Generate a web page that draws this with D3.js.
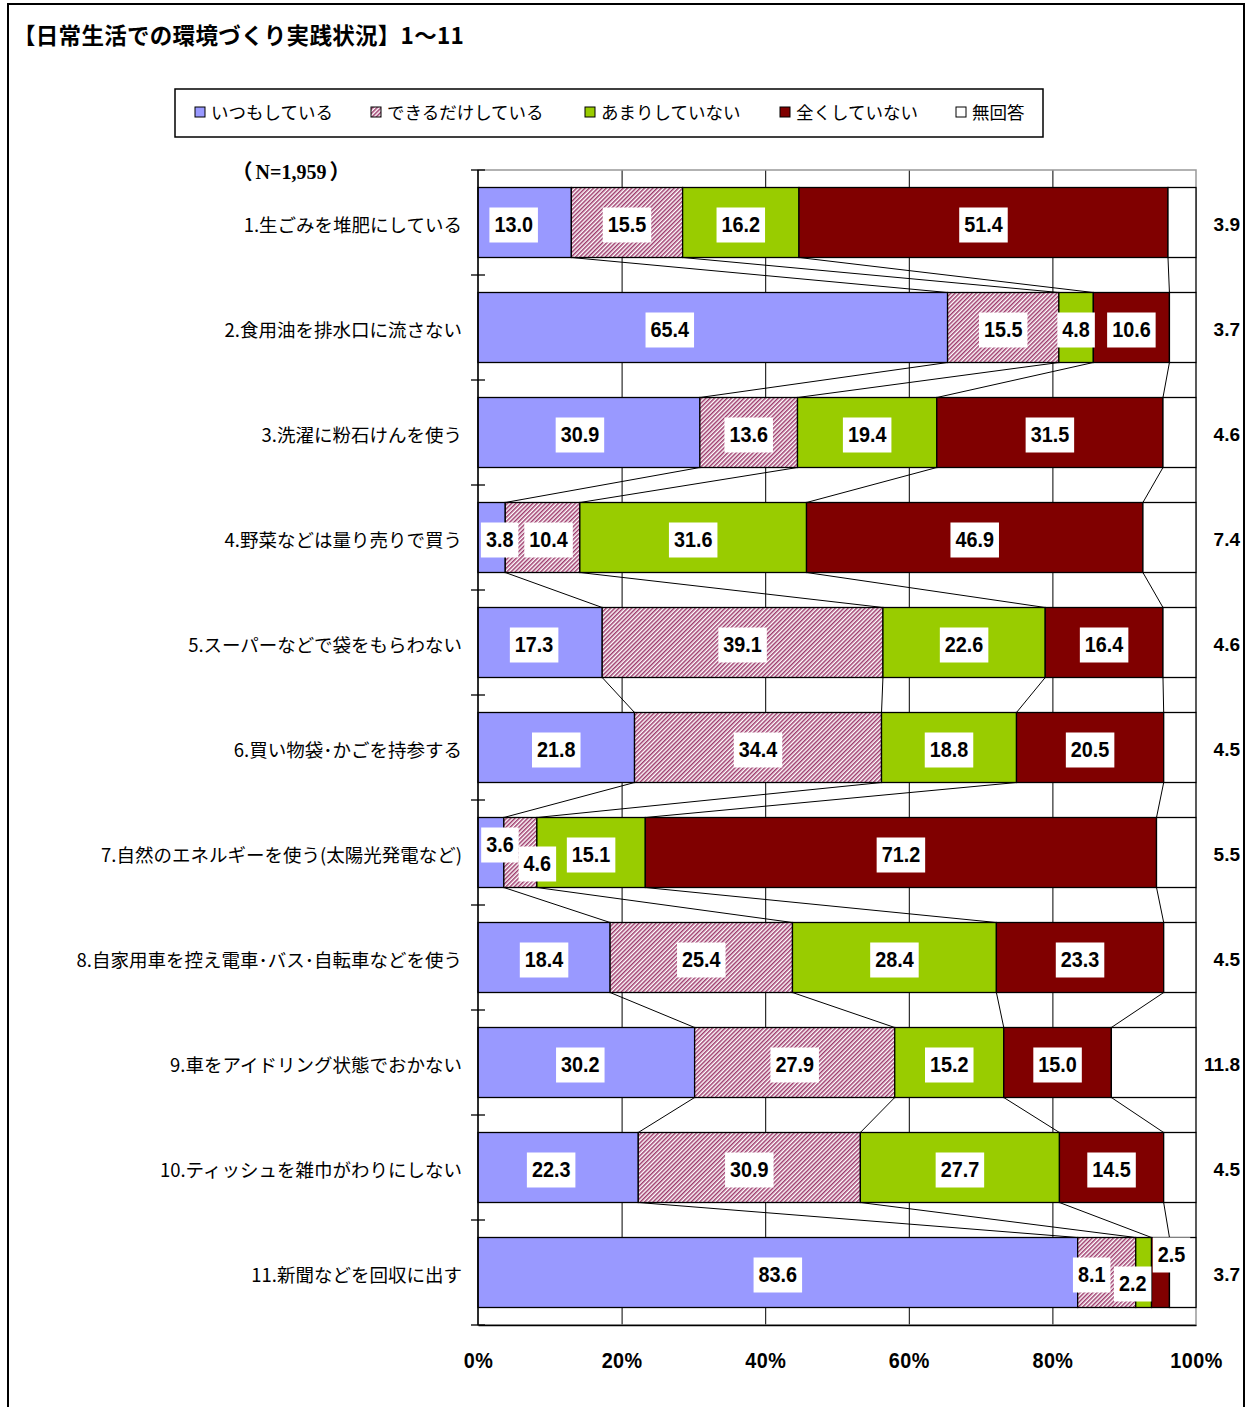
<!DOCTYPE html>
<html lang="ja">
<head>
<meta charset="utf-8">
<script src="https://cdn.jsdelivr.net/npm/d3@7"></script>
<style>
  html, body { margin: 0; padding: 0; background: #fff; }
  svg { display: block; }
</style>
</head>
<body>
<div id="chart"></div>
<script>
// ---- data ----
const categories = [
  "1.生ごみを堆肥にしている",
  "2.食用油を排水口に流さない",
  "3.洗濯に粉石けんを使う",
  "4.野菜などは量り売りで買う",
  "5.スーパーなどで袋をもらわない",
  "6.買い物袋･かごを持参する",
  "7.自然のエネルギーを使う(太陽光発電など)",
  "8.自家用車を控え電車･バス･自転車などを使う",
  "9.車をアイドリング状態でおかない",
  "10.ティッシュを雑巾がわりにしない",
  "11.新聞などを回収に出す"
];
const seriesNames = ["いつもしている", "できるだけしている", "あまりしていない", "全くしていない", "無回答"];
const always       = [13.0, 65.4, 30.9,  3.8, 17.3, 21.8,  3.6, 18.4, 30.2, 22.3, 83.6];
const whenPossible = [15.5, 15.5, 13.6, 10.4, 39.1, 34.4,  4.6, 25.4, 27.9, 30.9,  8.1];
const rarely       = [16.2,  4.8, 19.4, 31.6, 22.6, 18.8, 15.1, 28.4, 15.2, 27.7,  2.2];
const never        = [51.4, 10.6, 31.5, 46.9, 16.4, 20.5, 71.2, 23.3, 15.0, 14.5,  2.5];
const noAnswer     = [ 3.9,  3.7,  4.6,  7.4,  4.6,  4.5,  5.5,  4.5, 11.8,  4.5,  3.7];
const tickValues   = [0, 0.2, 0.4, 0.6, 0.8, 1];
const sampleNote   = "N=1,959";
const titleText    = "【日常生活での環境づくり実践状況】1～11";

// ---- layout / style ----
const W = 1247, H = 1407;
const plot = { left: 478, right: 1196, top: 170, bottom: 1325 };
const colors = ["#9999FF", "url(#hatch)", "#99CC00", "#800000", "#FFFFFF"];
const keys = ["s0", "s1", "s2", "s3", "s4"];
// per-label placement tweaks (row index -> series index -> [dx, dy])
const labelNudge = {
  0: { 0: [-11, 0] },
  1: { 0: [-43, 0] },
  2: { 0: [-9, 0] },
  3: { 0: [8, 0], 1: [6, 0] },
  4: { 0: [-6, 0] },
  6: { 0: [9, -10], 1: [17, 9] },
  8: { 0: [-6, 0] },
  9: { 0: [-7, 0] },
  10: { 1: [-15, 0], 2: [-11, 9], 3: [11, -20] }
};
const numFont = "'Liberation Sans', Arial, sans-serif";
const jpFont = "'Noto Sans CJK JP', 'Noto Sans', sans-serif";
const serifFont = "'Liberation Serif', 'Times New Roman', serif";
const squeeze = 0.9;

const rows = categories.map((c, i) => ({
  cat: c, s0: always[i], s1: whenPossible[i], s2: rarely[i], s3: never[i], s4: noAnswer[i]
}));
const stacked = d3.stack().keys(keys).offset(d3.stackOffsetExpand)(rows);

const x = d3.scaleLinear().domain([0, 1]).range([plot.left, plot.right]);
const y = d3.scaleBand().domain(categories)
  .range([plot.top, plot.bottom]).paddingInner(1 / 3).paddingOuter(1 / 6);

const svg = d3.select("#chart").append("svg").attr("width", W).attr("height", H);

const defs = svg.append("defs");
const pat = defs.append("pattern").attr("id", "hatch")
  .attr("patternUnits", "userSpaceOnUse").attr("width", 3).attr("height", 3)
  .attr("patternTransform", "rotate(45)");
pat.append("rect").attr("width", 3).attr("height", 3).attr("fill", "#fff");
pat.append("rect").attr("width", 1.5).attr("height", 3).attr("fill", "#9E3A6C");

svg.append("rect").attr("width", W).attr("height", H).attr("fill", "#fff");
// outer frame
svg.append("rect").attr("x", 8).attr("y", 4).attr("width", 1236).attr("height", 1430)
  .attr("fill", "none").attr("stroke", "#000").attr("stroke-width", 2);

// title
svg.append("text").attr("x", 13).attr("y", 44)
  .attr("font-family", jpFont).attr("font-weight", "bold").attr("font-size", 22.5)
  .attr("letter-spacing", 0.3)
  .text(titleText);

// legend
const lg = svg.append("g");
lg.append("rect").attr("x", 175).attr("y", 89).attr("width", 868).attr("height", 48)
  .attr("fill", "#fff").attr("stroke", "#000").attr("stroke-width", 1.5);
const legendX = [195, 371, 585, 780, 956];
seriesNames.forEach((n, i) => {
  lg.append("rect").attr("x", legendX[i]).attr("y", 107).attr("width", 10).attr("height", 10)
    .attr("fill", colors[i]).attr("stroke", "#000").attr("stroke-width", 1);
  lg.append("text").attr("x", legendX[i] + 16).attr("y", 119)
    .attr("font-family", jpFont).attr("font-size", 17.5).text(n);
});

// sample size note
const note = svg.append("text").attr("x", 291).attr("y", 179).attr("text-anchor", "middle")
  .attr("font-weight", "bold").attr("font-size", 20);
note.append("tspan").attr("font-family", jpFont).attr("font-size", 21).text("（");
note.append("tspan").attr("font-family", serifFont).attr("dx", 3).text(sampleNote);
note.append("tspan").attr("font-family", jpFont).attr("font-size", 21).attr("dx", 3).text("）");

// vertical gridlines
const grid = svg.append("g").attr("transform", `translate(0,${plot.bottom})`)
  .call(d3.axisBottom(x).tickValues([0.2, 0.4, 0.6, 0.8])
    .tickSize(-(plot.bottom - plot.top)).tickFormat(""));
grid.select(".domain").remove();
grid.selectAll("line").attr("stroke", "#000").attr("stroke-width", 1);

// plot area border
svg.append("rect").attr("x", plot.left).attr("y", plot.top)
  .attr("width", plot.right - plot.left).attr("height", plot.bottom - plot.top)
  .attr("fill", "none").attr("stroke", "#999").attr("stroke-width", 1.5);

// series connector lines between consecutive bars
const conn = svg.append("g").attr("stroke", "#000").attr("stroke-width", 1);
stacked.forEach(layer => {
  for (let i = 0; i < rows.length - 1; i++) {
    conn.append("line")
      .attr("x1", x(layer[i][1])).attr("y1", y(categories[i]) + y.bandwidth())
      .attr("x2", x(layer[i + 1][1])).attr("y2", y(categories[i + 1]));
  }
});

// bars
const bars = svg.append("g");
stacked.forEach((layer, si) => {
  bars.selectAll(null).data(layer).enter().append("rect")
    .attr("x", d => x(d[0]))
    .attr("y", d => y(d.data.cat))
    .attr("width", d => x(d[1]) - x(d[0]))
    .attr("height", y.bandwidth())
    .attr("fill", colors[si])
    .attr("stroke", "#000").attr("stroke-width", 1.3);
});

// left axis with ticks at category boundaries
const ax = svg.append("g").attr("stroke", "#000");
ax.append("line").attr("x1", plot.left).attr("x2", plot.left)
  .attr("y1", plot.top).attr("y2", plot.bottom).attr("stroke-width", 1.5);
d3.range(categories.length + 1).forEach(k => {
  const yy = plot.top + k * y.step();
  ax.append("line").attr("x1", plot.left - 7).attr("x2", plot.left + 7)
    .attr("y1", yy).attr("y2", yy).attr("stroke-width", 1.3);
});

// bottom axis
const bx = svg.append("g").attr("transform", `translate(0,${plot.bottom})`)
  .call(d3.axisBottom(x).tickValues(tickValues).tickSize(0).tickFormat(d3.format(".0%")));
bx.select(".domain").attr("stroke", "#000").attr("stroke-width", 1.5);
bx.selectAll("text")
  .attr("y", 35).attr("dy", "0.36em")
  .attr("font-family", numFont).attr("font-weight", "bold").attr("font-size", 22)
  .attr("letter-spacing", 0.5)
  .attr("fill", "#000")
  .attr("transform", `scale(${squeeze},1)`);

// category labels
svg.append("g").selectAll("text").data(categories).enter().append("text")
  .attr("x", 462).attr("y", d => y(d) + y.bandwidth() / 2 + 3)
  .attr("dy", "0.36em").attr("text-anchor", "end")
  .attr("font-family", jpFont).attr("font-size", 18.5)
  .text(d => d);

// data labels on the four answer segments
const lblG = svg.append("g");
stacked.slice(0, 4).forEach((layer, si) => {
  layer.forEach((d, ri) => {
    const nud = (labelNudge[ri] && labelNudge[ri][si]) || [0, 0];
    const cx = (x(d[0]) + x(d[1])) / 2 + nud[0];
    const cy = y(d.data.cat) + y.bandwidth() / 2 + 2 + nud[1];
    const val = rows[ri][keys[si]];
    const g = lblG.append("g").attr("transform", `translate(${cx},${cy})`);
    const box = g.append("rect").attr("fill", "#fff");
    const t = g.append("text").attr("text-anchor", "middle").attr("dy", "0.36em")
      .attr("font-family", numFont).attr("font-weight", "bold").attr("font-size", 22)
      .attr("transform", `scale(${squeeze},1)`)
      .text(d3.format(".1f")(val));
    const w = t.node().getComputedTextLength() * squeeze + 10;
    box.attr("x", -w / 2).attr("y", -17).attr("width", w).attr("height", 35);
  });
});

// no-answer values to the right of the plot
svg.append("g").selectAll("text").data(categories).enter().append("text")
  .attr("x", 1240).attr("y", (d, i) => y(d) + y.bandwidth() / 2 + 2)
  .attr("dy", "0.36em").attr("text-anchor", "end")
  .attr("font-family", numFont).attr("font-weight", "bold").attr("font-size", 19)
  .text((d, i) => d3.format(".1f")(noAnswer[i]));
</script>
</body>
</html>
